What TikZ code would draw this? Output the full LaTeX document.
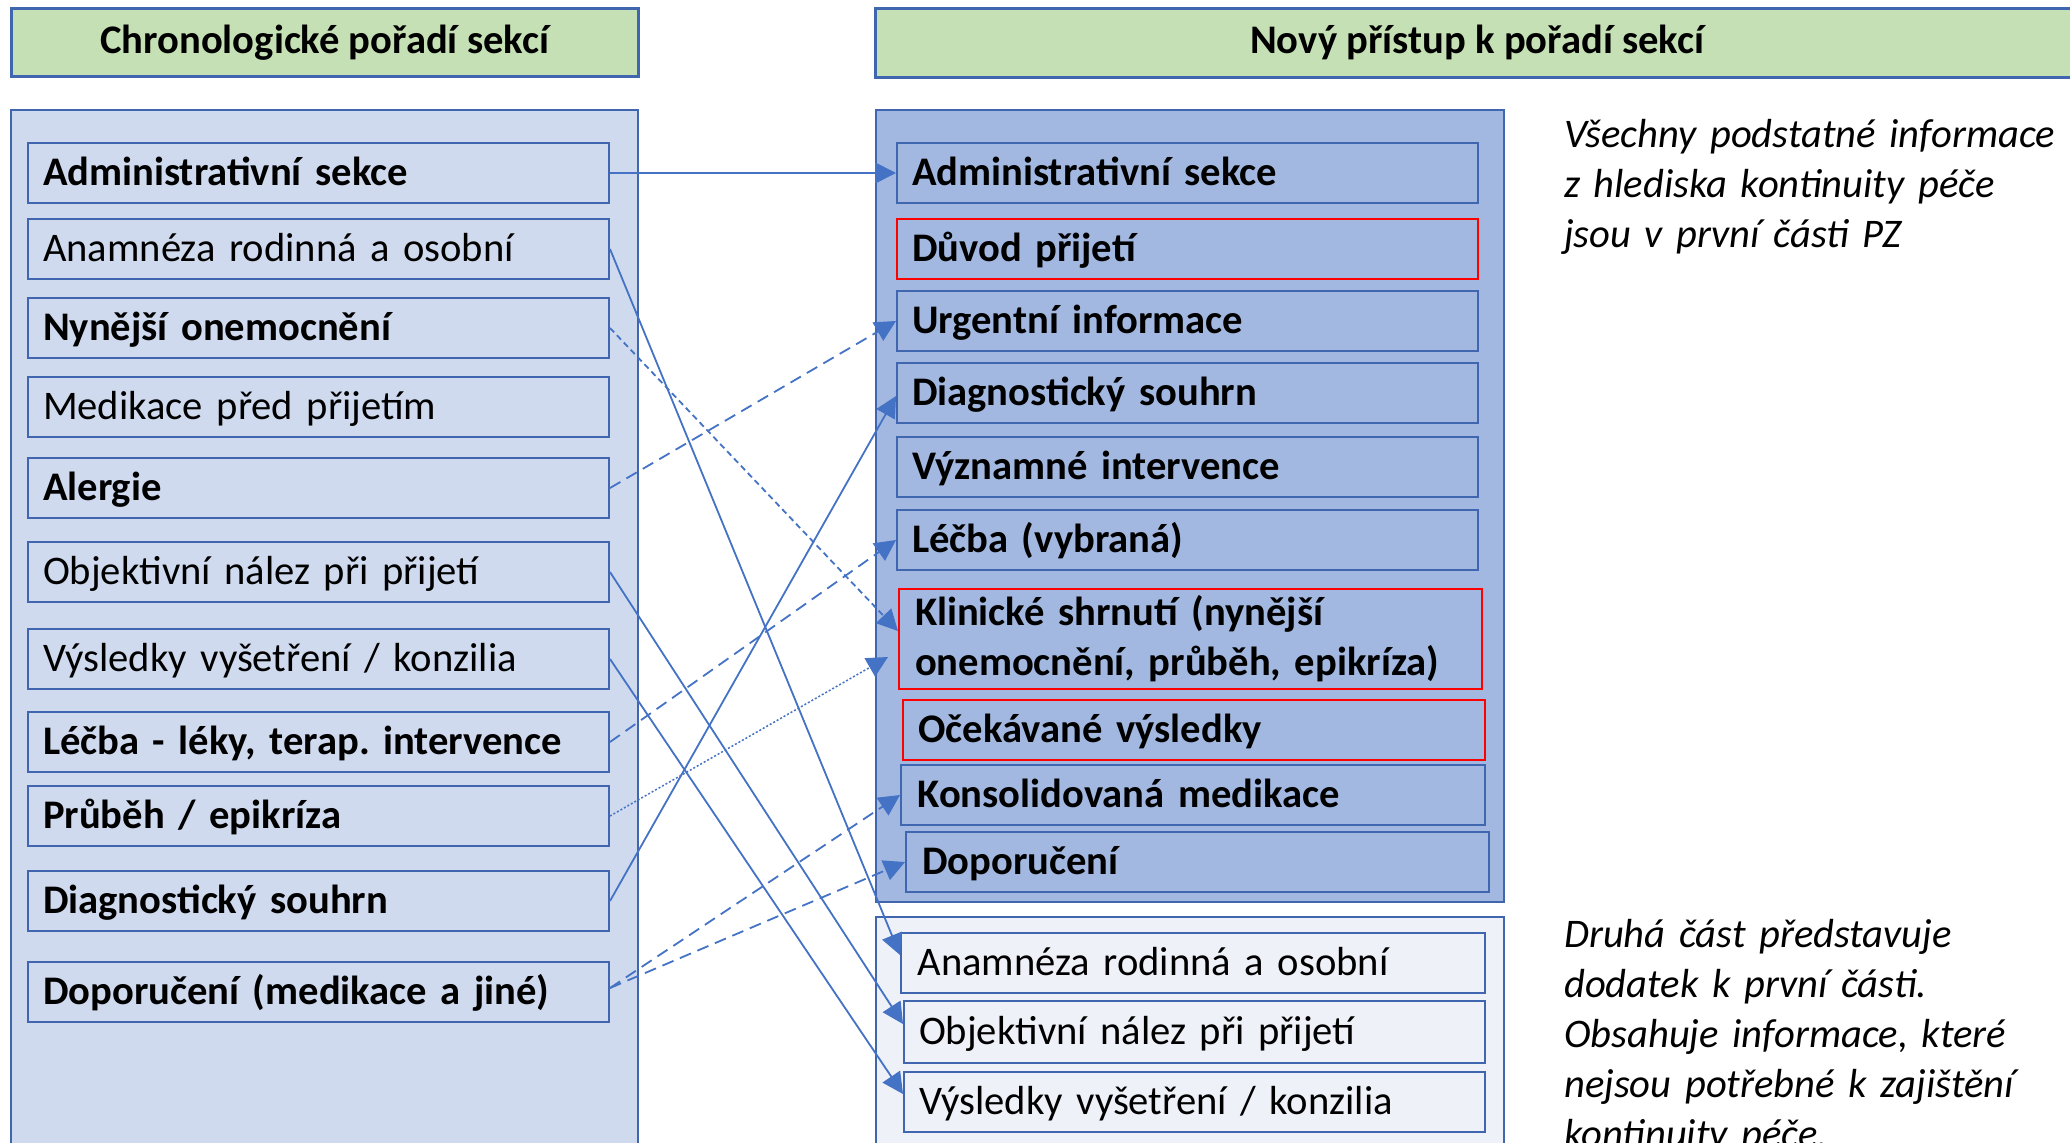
\documentclass[tikz,border=0pt]{standalone}
\usepackage{fontspec}
\setmainfont{Carlito}
\usetikzlibrary{arrows.meta}
\definecolor{hdrfill}{HTML}{C5E0B4}
\definecolor{linec}{HTML}{3F66AE}
\definecolor{lfillc}{HTML}{CFDAEE}
\definecolor{dfillc}{HTML}{A2B8E0}
\definecolor{pfillc}{HTML}{EFF1F8}
\definecolor{arrc}{HTML}{4472C4}
\definecolor{redc}{HTML}{FF0000}
\newcommand\fsz{\fontsize{40.6}{50}\selectfont\frenchspacing}
\begin{document}
\begin{tikzpicture}[x=1pt,y=-1pt,
  cont/.style={draw=linec, line width=2pt, anchor=north west, inner sep=0pt},
  hdr/.style={draw=linec, line width=2.5pt, fill=hdrfill, anchor=north west, inner sep=0pt, font=\fsz\bfseries},
  bxbase/.style={draw=linec, line width=2pt, anchor=north west, minimum width=581pt,
    inner xsep=15pt, inner ysep=0pt, text width=551pt, align=left, font=\fsz},
  bx/.style={bxbase, minimum height=60pt, text height=27pt, text depth=1.5pt},
  note/.style={anchor=base west, inner sep=0pt, text width=620pt, align=left, font=\fsz\itshape},
  conn/.style={draw=arrc, line width=1.8pt, -{Triangle[length=21pt,width=21pt]}},
  dashL/.style={dash pattern=on 12pt off 7pt},
  dashS/.style={dash pattern=on 6pt off 4pt},
  dotS/.style={line width=1.5pt, dash pattern=on 2pt off 2pt}
]
\useasboundingbox (0,0) rectangle (2070,1143);
\clip (0,0) rectangle (2070,1143);
\fill[white] (0,0) rectangle (2070,1143);

% headers
\node[hdr, minimum width=627pt, minimum height=68pt] (lhdr) at (10,7) {Chronologické pořadí sekcí};
\node[hdr, minimum width=1204pt, minimum height=69pt] (rhdr) at (874,7) {Nový přístup k pořadí sekcí};

% containers
\node[cont, fill=lfillc, minimum width=627pt, minimum height=1060pt] (lcont) at (10,109) {};
\node[cont, fill=dfillc, minimum width=628pt, minimum height=792pt] (rcont) at (875,109) {};
\node[cont, fill=pfillc, minimum width=628pt, minimum height=260pt] (pcont) at (875,916) {};

% left boxes
\node[bx, fill=lfillc] (lAdm) at (27,142) {\bfseries Administrativní sekce};
\node[bx, fill=lfillc] (lAna) at (27,218) {Anamnéza rodinná a osobní};
\node[bx, fill=lfillc] (lNyn) at (27,297) {\bfseries Nynější onemocnění};
\node[bx, fill=lfillc] (lMed) at (27,376) {Medikace před přijetím};
\node[bx, fill=lfillc] (lAle) at (27,457) {\bfseries Alergie};
\node[bx, fill=lfillc] (lObj) at (27,541) {Objektivní nález při přijetí};
\node[bx, fill=lfillc] (lVys) at (27,628) {Výsledky vyšetření / konzilia};
\node[bx, fill=lfillc] (lLec) at (27,711) {\bfseries Léčba - léky, terap. intervence};
\node[bx, fill=lfillc] (lPru) at (27,785) {\bfseries Průběh / epikríza};
\node[bx, fill=lfillc] (lDia) at (27,870) {\bfseries Diagnostický souhrn};
\node[bx, fill=lfillc] (lDop) at (27,961) {\bfseries Doporučení (medikace a jiné)};

% right boxes (first part)
\node[bx, fill=dfillc] (rAdm) at (896,142) {\bfseries Administrativní sekce};
\node[bx, fill=dfillc, draw=redc] (rDuv) at (896,218) {\bfseries Důvod přijetí};
\node[bx, fill=dfillc] (rUrg) at (896,290) {\bfseries Urgentní informace};
\node[bx, fill=dfillc] (rDia) at (896,362) {\bfseries Diagnostický souhrn};
\node[bx, fill=dfillc] (rVyz) at (896,436) {\bfseries Významné intervence};
\node[bx, fill=dfillc] (rLec) at (896,509) {\bfseries Léčba (vybraná)};
\node[bxbase, fill=dfillc, draw=redc, minimum height=100pt, minimum width=583pt] (rKlin) at (898,588)
  {\bfseries Klinické shrnutí (nynější\\onemocnění, průběh, epikríza)};
\node[bx, fill=dfillc, draw=redc, minimum width=582pt] (rOce) at (902,699) {\bfseries Očekávané výsledky};
\node[bx, fill=dfillc, minimum width=584pt] (rKon) at (900,764) {\bfseries Konsolidovaná medikace};
\node[bx, fill=dfillc, minimum width=583pt] (rDop) at (905,831) {\bfseries Doporučení};

% right boxes (second part)
\node[bx, fill=pfillc, minimum width=584pt] (rAna) at (900,932) {Anamnéza rodinná a osobní};
\node[bx, fill=pfillc, minimum height=62pt] (rObj) at (903,1000) {Objektivní nález při přijetí};
\node[bx, fill=pfillc] (rVys) at (903,1071) {Výsledky vyšetření / konzilia};

% notes
\node[note] (n1) at (1564,147) {Všechny podstatné informace\\z hlediska kontinuity péče\\jsou v první části PZ};
\node[note] (n2) at (1564,947) {Druhá část představuje\\dodatek k první části.\\Obsahuje informace, které\\nejsou potřebné k zajištění\\kontinuity péče.};

% connectors
\draw[conn] (lAdm.east) -- (rAdm.west);
\draw[conn] (lAna.east) -- ([yshift=8pt]rAna.west);
\draw[conn, dashS] (lNyn.east) -- ([yshift=8pt]rKlin.west);
\draw[conn, dashL] (lAle.east) -- (rUrg.west);
\draw[conn] (lObj.east) -- ([yshift=8pt]rObj.west);
\draw[conn] (lVys.east) -- ([yshift=8pt]rVys.west);
\draw[conn, dashL] (lLec.east) -- (rLec.west);
\draw[conn, dotS] (lPru.east) -- ([xshift=-10pt,yshift=-18pt]rKlin.west);
\draw[conn] (lDia.east) -- ([yshift=-3pt]rDia.west);
\draw[conn, dashL] ([yshift=4pt]lDop.east) -- (rKon.west);
\draw[conn, dashL] ([yshift=4pt]lDop.east) -- (rDop.west);
\end{tikzpicture}
\end{document}
